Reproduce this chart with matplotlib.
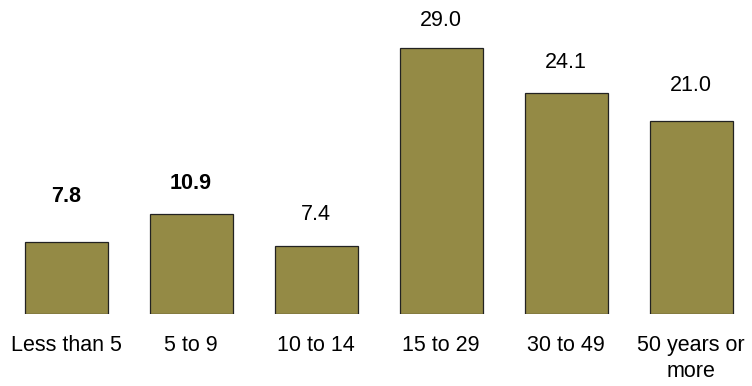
import matplotlib.pyplot as plt

plt.rcParams['font.family'] = ['Liberation Sans', 'DejaVu Sans']

categories = ["Less than 5", "5 to 9", "10 to 14", "15 to 29", "30 to 49", "50 years or\nmore"]
values = [7.8, 10.9, 7.4, 29.0, 24.1, 21.0]
bold_labels = [True, True, False, False, False, False]

# gap between bar top and label baseline, in points
label_pad = [29, 18, 19, 16, 18, 22]

bar_color = "#948a45"

fig = plt.figure(figsize=(7.52, 3.86), dpi=100)
ax = fig.add_axes([0, 72 / 386, 1, 293.4 / 386])

x = range(len(categories))
bars = ax.bar(x, values, width=0.664, color=bar_color, edgecolor="#222222", linewidth=0.9)

for rect, v, b, pad in zip(bars, values, bold_labels, label_pad):
    ax.annotate(f"{v:.1f}", (rect.get_x() + rect.get_width() / 2, v),
                xytext=(0, pad), textcoords="offset points",
                ha="center", va="baseline", fontsize=15.5,
                fontweight="bold" if b else "normal")

ax.set_xticks(list(x))
ax.set_xticklabels(categories, fontsize=15.5, linespacing=1.35)
ax.tick_params(axis="x", length=0, pad=15)
ax.set_yticks([])
ax.set_xlim(-0.528, 5.488)
ax.set_ylim(0, 32)
for s in ax.spines.values():
    s.set_visible(False)

fig.savefig("out.png", dpi=100)
